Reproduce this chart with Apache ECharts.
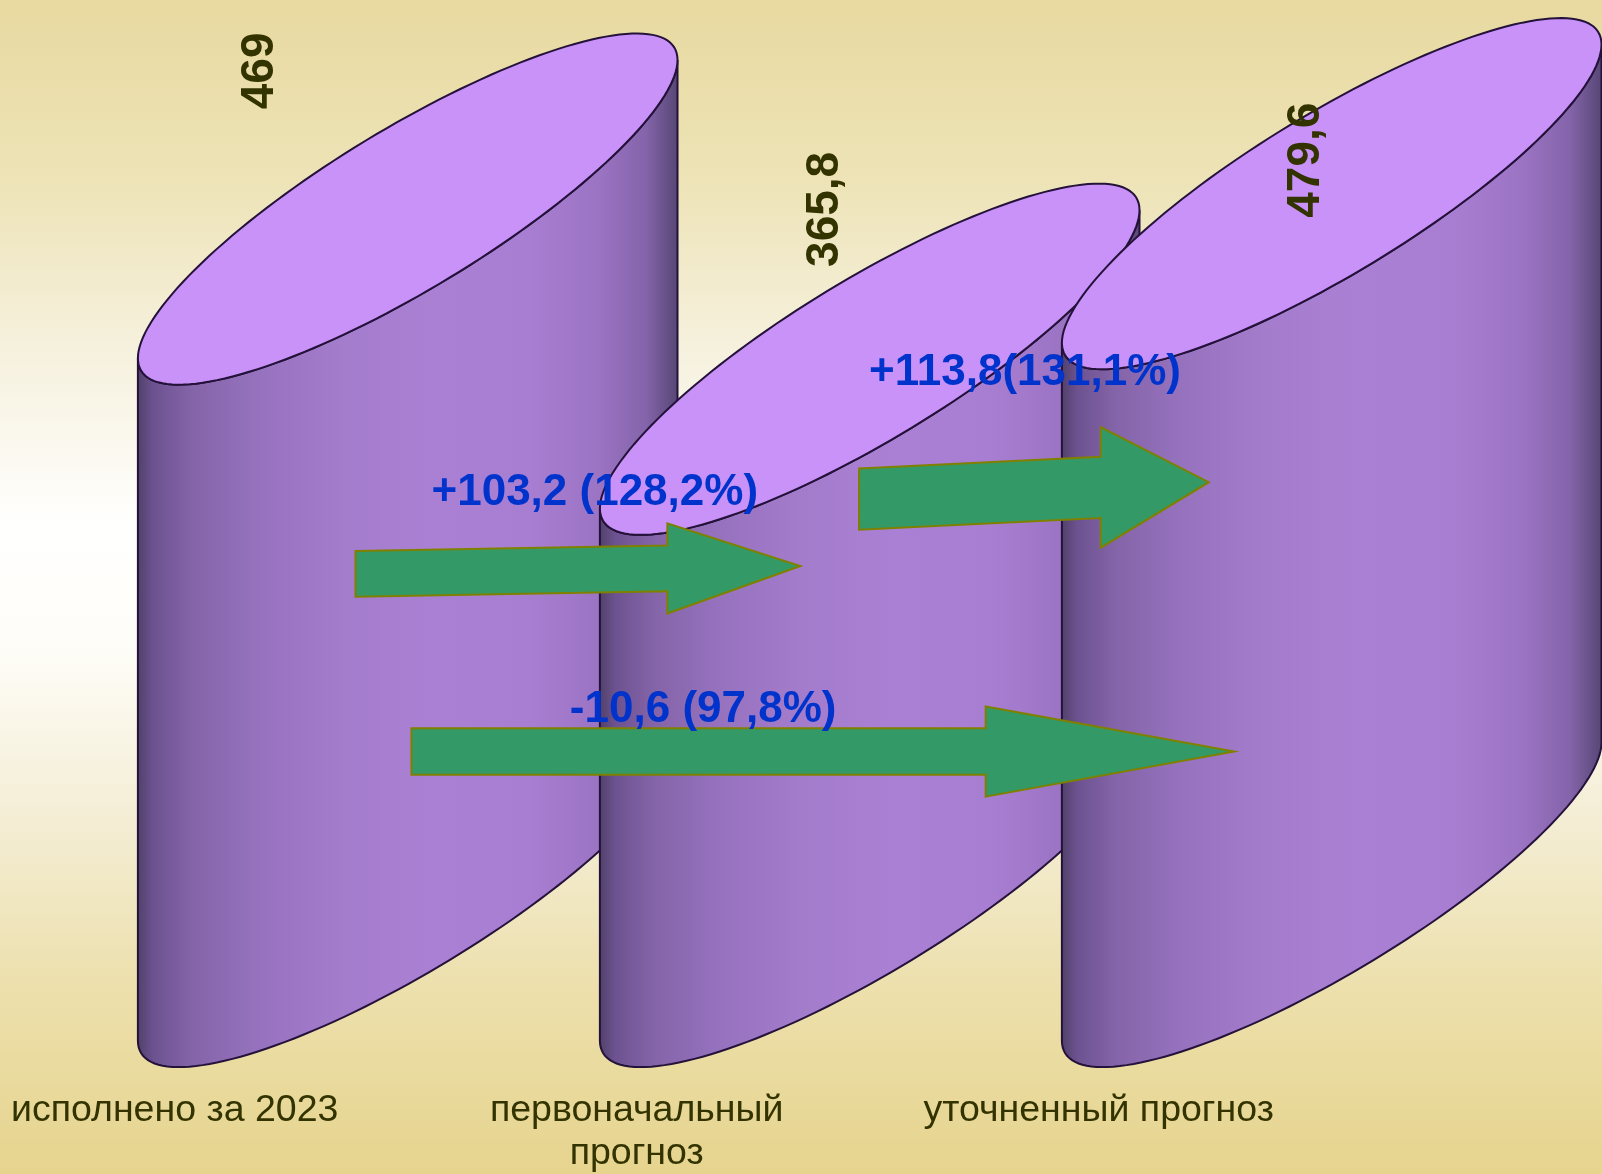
<!DOCTYPE html>
<html>
<head>
<meta charset="utf-8">
<script src="https://cdn.jsdelivr.net/npm/echarts@6/dist/echarts.min.js"></script>
<style>
  html, body { margin: 0; padding: 0; }
  #chart { width: 1602px; height: 1174px; }
</style>
</head>
<body>
<div id="chart"></div>
<script>
// data
const categories = ["исполнено за 2023", "первоначальный прогноз", "уточненный прогноз"];
const values = [469, 365.8, 479.6];
const changeLabels = ["+103,2 (128,2%)", "+113,8(131,1%)", "-10,6 (97,8%)"];

// layout (axis units: x = category index, y = value)
const valueLabelNudge = [[-0.318, 95], [-0.096, 103], [-0.056, 23]];
const arrowLayout = [
  { x: [-0.113, 0.562, 0.85], y: [218.3, 223.7], shaft: 15.7, head: 31 },
  { x: [0.977, 1.5, 1.734], y: [269.7, 281.3], shaft: 21, head: 41.4 },
  { x: [0.008, 1.251, 1.789], y: [96.2, 96.2], shaft: 16, head: 31 }
];
const changeLabelPos = [[0.0515, 274], [0.9985, 356.4], [0.351, 124.7]];

const FONT = '"Liberation Sans", Arial, sans-serif';
const sideColor = new echarts.graphic.LinearGradient(0, 0, 1, 0, [
  { offset: 0, color: "#504068" },
  { offset: 0.03, color: "#6c5290" },
  { offset: 0.1, color: "#8464a8" },
  { offset: 0.22, color: "#9672be" },
  { offset: 0.38, color: "#a47ccc" },
  { offset: 0.55, color: "#aa80d4" },
  { offset: 0.72, color: "#a87ed2" },
  { offset: 0.85, color: "#9c74c4" },
  { offset: 0.94, color: "#8464aa" },
  { offset: 1, color: "#564674" }
]);

// word wrap for the category captions
function wrapLabel(text, maxWidth) {
  let ctx = document.createElement("canvas").getContext("2d");
  ctx.font = "37.5px " + FONT;
  let lines = [];
  let line = "";
  text.split(" ").forEach(w => {
    let test = line ? line + " " + w : w;
    if (line && ctx.measureText(test).width > maxWidth) {
      lines.push(line);
      line = w;
    } else {
      line = test;
    }
  });
  lines.push(line);
  return lines.join("\n");
}

function renderCylinder(params, api) {
  let i = api.value(0);
  let base = api.coord([i, 0]);
  let top = api.coord([i, api.value(1)]);
  let R = api.size([1, 0])[0] * 0.584;
  let sR = R * 0.5525;
  let r = R * 0.344;
  let cx = base[0];
  let ell = (cy, t) => [cx + R * Math.cos(t), cy - sR * Math.cos(t) + r * Math.sin(t)];
  let body = [];
  let cap = [];
  for (let k = 0; k <= 80; k++) body.push(ell(base[1], Math.PI - (Math.PI * k) / 80));
  for (let k = 0; k <= 80; k++) body.push(ell(top[1], (Math.PI * k) / 80));
  for (let k = 0; k < 160; k++) cap.push(ell(top[1], (2 * Math.PI * k) / 160));
  let A = Math.sqrt(sR * sR + r * r);
  let lowX = cx - (R * sR) / A;
  let lowY = base[1] + A;
  return {
    type: "group",
    children: [
      { type: "polygon", shape: { points: body }, style: { fill: sideColor, stroke: "#24123a", lineWidth: 2 } },
      { type: "polygon", shape: { points: cap }, style: { fill: "#c892f9", stroke: "#24123a", lineWidth: 2 } },
      {
        type: "text",
        style: {
          text: wrapLabel(categories[i], 400), x: lowX - 4, y: lowY + 22,
          align: "center", verticalAlign: "top",
          lineHeight: 43, fontSize: 37.5, fontFamily: FONT, fill: "#333300"
        }
      }
    ]
  };
}

function renderArrow(params, api) {
  let a = arrowLayout[params.dataIndex];
  let yAt = x => a.y[0] + ((a.y[1] - a.y[0]) * (x - a.x[0])) / (a.x[2] - a.x[0]);
  let pts = [
    [a.x[0], yAt(a.x[0]) + a.shaft],
    [a.x[1], yAt(a.x[1]) + a.shaft],
    [a.x[1], yAt(a.x[1]) + a.head],
    [a.x[2], yAt(a.x[2])],
    [a.x[1], yAt(a.x[1]) - a.head],
    [a.x[1], yAt(a.x[1]) - a.shaft],
    [a.x[0], yAt(a.x[0]) - a.shaft]
  ].map(p => api.coord(p));
  let lp = api.coord(changeLabelPos[params.dataIndex]);
  return {
    type: "group",
    children: [
      { type: "polygon", shape: { points: pts }, style: { fill: "#339966", stroke: "#808000", lineWidth: 2 } },
      {
        type: "text", x: lp[0], y: lp[1],
        style: {
          text: changeLabels[params.dataIndex], x: 0, y: 0,
          align: "left", verticalAlign: "middle",
          fontSize: 44, fontWeight: "bold", fontFamily: FONT, fill: "#0033cc"
        }
      }
    ]
  };
}

function renderValueLabel(params, api) {
  let i = api.value(0);
  let n = valueLabelNudge[i];
  let p = api.coord([i + n[0], api.value(1) + n[1]]);
  return {
    type: "text", x: p[0], y: p[1], rotation: Math.PI / 2,
    style: {
      text: String(api.value(1)).replace(".", ","), x: 0, y: 0,
      align: "center", verticalAlign: "middle",
      fontSize: 46, fontWeight: "bold", fontFamily: FONT, fill: "#333300"
    }
  };
}

let myChart = echarts.init(document.getElementById("chart"));
let option = {
  animation: false,
  backgroundColor: new echarts.graphic.LinearGradient(0, 0, 0, 1, [
    { offset: 0, color: "#e8d9a0" },
    { offset: 0.15, color: "#ede3b6" },
    { offset: 0.3, color: "#f6f1de" },
    { offset: 0.45, color: "#fffffe" },
    { offset: 0.55, color: "#fefdf8" },
    { offset: 0.7, color: "#f4edd4" },
    { offset: 0.85, color: "#ecdfaa" },
    { offset: 1, color: "#e6d48e" }
  ]),
  grid: { left: 176.7, right: 39.3, top: 18.5, bottom: 282.5 },
  xAxis: { type: "value", min: -0.5, max: 2.5, show: false },
  yAxis: { type: "value", min: 0, max: 600, show: false },
  series: [
    {
      type: "custom", z: 2,
      renderItem: renderCylinder,
      data: values.map((v, i) => [i, v])
    },
    {
      type: "custom", z: 3,
      renderItem: renderArrow,
      data: changeLabels.map((t, i) => [i, 0])
    },
    {
      type: "custom", z: 4,
      renderItem: renderValueLabel,
      data: values.map((v, i) => [i, v])
    }
  ]
};
myChart.setOption(option);
</script>
</body>
</html>
